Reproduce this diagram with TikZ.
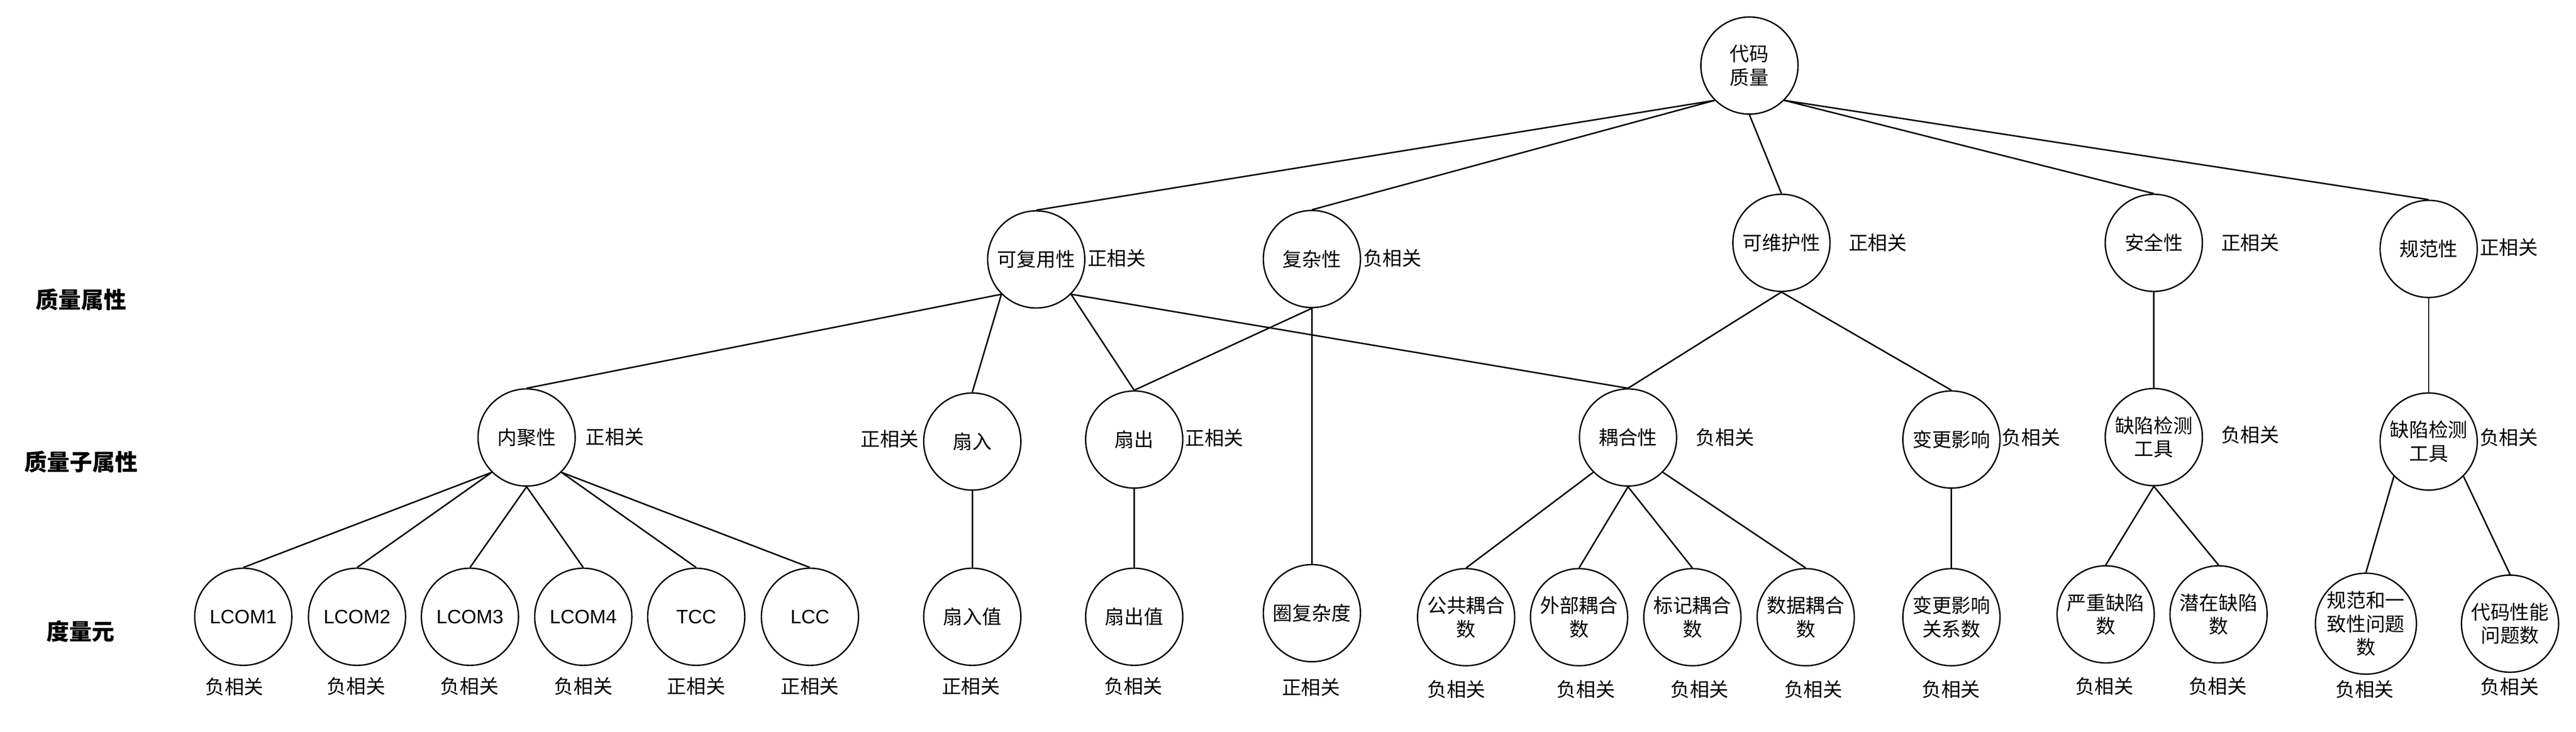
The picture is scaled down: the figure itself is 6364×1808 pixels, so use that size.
\documentclass[tikz,border=0pt]{standalone}
\usepackage{fontspec}
\setmainfont{Liberation Sans}
\newfontfamily\cjk{Noto Sans CJK SC}
\tikzset{
  nd/.style={circle,draw,line width=0.85pt,minimum size=60pt,inner sep=0pt,align=center,font=\cjk\fontsize{12pt}{14.5pt}\selectfont},
  ndl/.style={nd,font=\fontsize{12pt}{14.5pt}\selectfont},
  lab/.style={inner sep=0pt,font=\cjk\fontsize{12pt}{14.5pt}\selectfont},
  lvl/.style={inner sep=0pt,font=\cjk\bfseries\fontsize{14pt}{17pt}\selectfont},
  ln/.style={line width=0.9pt}
}
\begin{document}
\begin{tikzpicture}[x=0.25pt,y=-0.25pt]
\useasboundingbox (0,0) rectangle (6364,1808);
% level labels
\node[lvl] (lv1) at (200,740) {质量属性};
\node[lvl] (lv2) at (200,1141) {质量子属性};
\node[lvl] (lv3) at (199,1560) {度量元};
% root
\node[nd] (root) at (4322,162) {代码\\质量};
% attributes
\node[nd] (reuse) at (2560,641) {可复用性};
\node[nd] (cplx) at (3241,640) {复杂性};
\node[nd] (maint) at (4401,600) {可维护性};
\node[nd] (sec) at (5321,600) {安全性};
\node[nd] (std) at (6000,615) {规范性};
% sub-attributes
\node[nd] (coh) at (1301,1081) {内聚性};
\node[nd] (fin) at (2402,1091) {扇入};
\node[nd] (fout) at (2802,1086) {扇出};
\node[nd] (coup) at (4022,1081) {耦合性};
\node[nd] (chg) at (4821,1086) {变更影响};
\node[nd] (det1) at (5321,1080) {缺陷检测\\工具};
\node[nd] (det2) at (6000,1091) {缺陷检测\\工具};
% metrics
\node[ndl] (l1) at (601,1524) {LCOM1};
\node[ndl] (l2) at (882,1524) {LCOM2};
\node[ndl] (l3) at (1161,1524) {LCOM3};
\node[ndl] (l4) at (1441,1524) {LCOM4};
\node[ndl] (l5) at (1720,1524) {TCC};
\node[ndl] (l6) at (2001,1524) {LCC};
\node[nd] (finv) at (2402,1524) {扇入值};
\node[nd] (foutv) at (2802,1524) {扇出值};
\node[nd] (cc) at (3241,1515) {圈复杂度};
\node[nd] (c1) at (3622,1525) {公共耦合\\数};
\node[nd] (c2) at (3901,1525) {外部耦合\\数};
\node[nd] (c3) at (4181,1525) {标记耦合\\数};
\node[nd] (c4) at (4461,1525) {数据耦合\\数};
\node[nd] (chgv) at (4821,1525) {变更影响\\关系数};
\node[nd] (d1) at (5202,1518) {严重缺陷\\数};
\node[nd] (d2) at (5481,1518) {潜在缺陷\\数};
\node[nd] (s1) at (5845,1541) {规范和一\\致性问题\\数};
\node[nd] (s2) at (6201,1541) {代码性能\\问题数};
% correlation labels
\node[lab] (t1) at (2759,638) {正相关};
\node[lab] (t2) at (3440,638) {负相关};
\node[lab] (t3) at (4639,600) {正相关};
\node[lab] (t4) at (5559,600) {正相关};
\node[lab] (t5) at (6198,611) {正相关};
\node[lab] (t6) at (1519,1080) {正相关};
\node[lab] (t7) at (2198,1084) {正相关};
\node[lab] (t8) at (3000,1082) {正相关};
\node[lab] (t9) at (4262,1081) {负相关};
\node[lab] (t10) at (5018,1081) {负相关};
\node[lab] (t11) at (5559,1075) {负相关};
\node[lab] (t12) at (6198,1081) {负相关};
\node[lab] (b1) at (579,1697) {负相关};
\node[lab] (b2) at (880,1695) {负相关};
\node[lab] (b3) at (1160,1695) {负相关};
\node[lab] (b4) at (1441,1695) {负相关};
\node[lab] (b5) at (1720,1695) {正相关};
\node[lab] (b6) at (2001,1695) {正相关};
\node[lab] (b7) at (2399,1695) {正相关};
\node[lab] (b8) at (2800,1695) {负相关};
\node[lab] (b9) at (3239,1698) {正相关};
\node[lab] (b10) at (3598,1703) {负相关};
\node[lab] (b11) at (3918,1703) {负相关};
\node[lab] (b12) at (4199,1703) {负相关};
\node[lab] (b13) at (4480,1703) {负相关};
\node[lab] (b14) at (4820,1703) {负相关};
\node[lab] (b15) at (5199,1695) {负相关};
\node[lab] (b16) at (5479,1695) {负相关};
\node[lab] (b17) at (5842,1703) {负相关};
\node[lab] (b18) at (6200,1697) {负相关};
% edges
\draw[ln] (root.south west) -- (reuse.north);
\draw[ln] (root.south west) -- (cplx.north);
\draw[ln] (root.south) -- (maint.north);
\draw[ln] (root.south east) -- (sec.north);
\draw[ln] (root.south east) -- (std.north);
\draw[ln] (reuse.south west) -- (coh.north);
\draw[ln] (reuse.south west) -- (fin.north);
\draw[ln] (reuse.south east) -- (fout.north);
\draw[ln] (reuse.south east) -- (coup.north);
\draw[ln] (cplx.south) -- (fout.north);
\draw[ln] (cplx.south) -- (cc.north);
\draw[ln] (maint.south) -- (coup.north);
\draw[ln] (maint.south) -- (chg.north);
\draw[ln] (sec.south) -- (det1.north);
\draw[ln] (std.south) -- (det2.north);
\draw[ln] (coh.south west) -- (l1.north);
\draw[ln] (coh.south west) -- (l2.north);
\draw[ln] (coh.south) -- (l3.north);
\draw[ln] (coh.south) -- (l4.north);
\draw[ln] (coh.south east) -- (l5.north);
\draw[ln] (coh.south east) -- (l6.north);
\draw[ln] (fin.south) -- (finv.north);
\draw[ln] (fout.south) -- (foutv.north);
\draw[ln] (coup.south west) -- (c1.north);
\draw[ln] (coup.south) -- (c2.north);
\draw[ln] (coup.south) -- (c3.north);
\draw[ln] (coup.south east) -- (c4.north);
\draw[ln] (chg.south) -- (chgv.north);
\draw[ln] (det1.south) -- (d1.north);
\draw[ln] (det1.south) -- (d2.north);
\draw[ln] (det2.south west) -- (s1.north);
\draw[ln] (det2.south east) -- (s2.north);
\end{tikzpicture}
\end{document}
